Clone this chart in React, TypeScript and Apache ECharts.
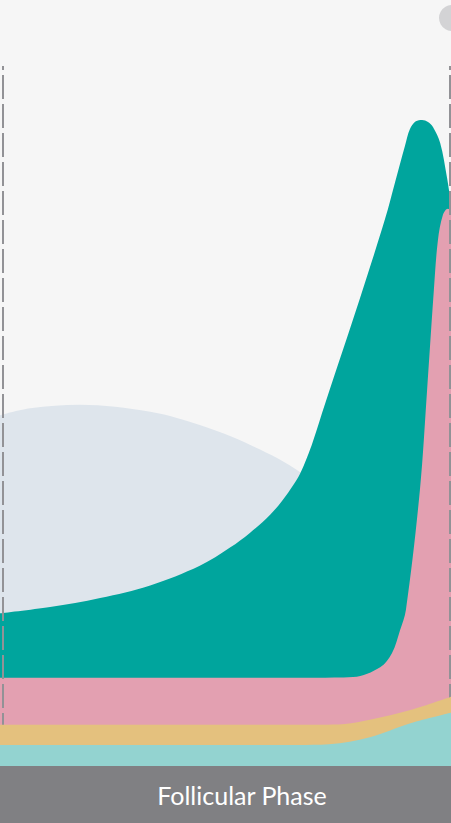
import React, { useEffect, useRef } from "react";
import * as echarts from "echarts";

// x = position within the follicular phase (0-100 %), y = relative hormone level (0-100)
const fshPoints = [
  [0, 50.1], [6.7, 51.1], [17.7, 51.6], [33.3, 50.6], [44.3, 48.7],
  [55.4, 45.9], [66.5, 42.0], [75.4, 36.6], [84.3, 28.3], [100, 16],
];
const lhPoints = [
  [0, 21.8], [11.1, 22.7], [22.2, 24.0], [33.3, 25.8], [44.3, 28.6],
  [51.0, 31.2], [55.4, 33.3], [59.9, 35.9], [62.7, 38.0], [65.0, 40.1],
  [66.5, 41.7], [68.1, 44.1], [69.4, 46.4], [72.1, 51.8], [79.8, 66.8],
  [85.4, 78.2], [87.6, 83.4], [89.8, 88.6], [90.9, 91.0], [92.2, 92.1],
  [93.6, 92.3], [94.9, 92.0], [96.0, 91.3], [97.6, 89.0], [99.1, 84.1],
  [100, 80.4],
];
const estrogenPoints = [
  [0, 12.6], [40, 12.6], [70, 12.6], [78.3, 12.7], [84.3, 14.1],
  [86.9, 16.1], [88.7, 19.4], [90.0, 22.3], [93.1, 39.4], [94.7, 53.7],
  [96.2, 68.0], [97.1, 75.1], [98.2, 78.7], [99.3, 79.6], [100, 79.4],
];
const progesteronePoints = [
  [0, 5.9], [40, 5.9], [71, 5.9], [76.5, 6.0], [82, 6.6], [91, 8.0], [100, 9.9],
];
const testosteronePoints = [
  [0, 3.0], [40, 3.0], [66, 3.0], [73, 3.1], [82, 4.1], [91, 6.1], [100, 7.6],
];
const phaseEdges = [0.55, 99.75];
const phaseLabel = "Follicular Phase";

const layers = [
  { name: "FSH", data: fshPoints, color: "#dee5ec" },
  { name: "LH", data: lhPoints, color: "#00a59d" },
  { name: "Estrogen", data: estrogenPoints, color: "#e3a0b1" },
  { name: "Progesterone", data: progesteronePoints, color: "#e4c17e" },
  { name: "Testosterone", data: testosteronePoints, color: "#93d3d0" },
];

const App = () => {
  const chartRef = useRef<HTMLDivElement>(null);

  useEffect(() => {
    const chart = echarts.init(chartRef.current!, null, { renderer: "svg" });

    const series: any[] = layers.map((l, i) => ({
      name: l.name,
      type: "line",
      data: l.data,
      smooth: 0.35,
      showSymbol: false,
      lineStyle: { width: 0 },
      areaStyle: { color: l.color, opacity: 1 },
      z: 2 + i,
    }));
    // dashed phase boundaries drawn over every layer
    series[series.length - 1].markLine = {
      silent: true,
      symbol: "none",
      label: { show: false },
      lineStyle: { color: "#929296", width: 2, type: [24, 5] },
      data: phaseEdges.map((x) => ({ xAxis: x })),
    };

    chart.setOption({
      animation: false,
      backgroundColor: "#f6f6f6",
      grid: { left: 0, right: 0, top: 66, bottom: 57 },
      xAxis: { type: "value", min: 0, max: 100, show: false },
      yAxis: { type: "value", min: 0, max: 100, show: false },
      series,
      graphic: [
        { type: "circle", shape: { cx: 452, cy: 18, r: 13 }, style: { fill: "#d3d3d5" } },
        { type: "rect", shape: { x: 0, y: 766, width: 451, height: 57 }, style: { fill: "#808083" } },
        {
          type: "text",
          x: 242,
          y: 795,
          style: {
            text: phaseLabel,
            fill: "#ffffff",
            font: "25px Lato",
            align: "center",
            verticalAlign: "middle",
          },
        },
      ],
    });

    return () => chart.dispose();
  }, []);

  return (
    <div
      ref={chartRef}
      style={{ position: "absolute", left: 0, top: 0, width: 451, height: 823 }}
    />
  );
};

export default App;
